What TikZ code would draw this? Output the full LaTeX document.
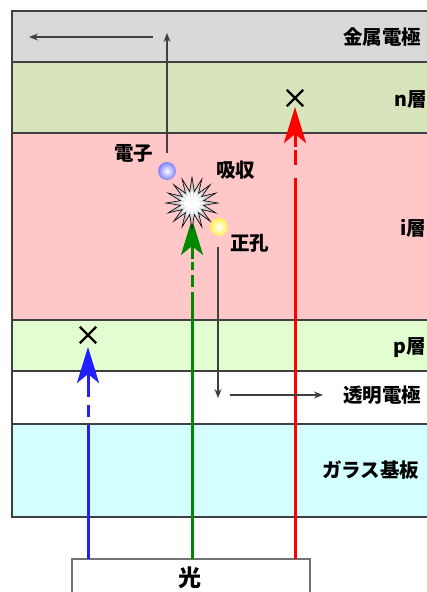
\documentclass[tikz,border=0pt]{standalone}
\usepackage{fontspec}
\setmainfont{Noto Sans CJK JP}
\usetikzlibrary{arrows.meta,shapes.misc,shapes.geometric}
\definecolor{metalc}{HTML}{D9D9D9}
\definecolor{nc}{HTML}{D8E4BC}
\definecolor{ic}{HTML}{FFC7C7}
\definecolor{pc}{HTML}{E2FDD0}
\definecolor{glassc}{HTML}{D3FFFF}
\definecolor{edgec}{HTML}{404040}
\definecolor{rayblue}{HTML}{2020FF}
\definecolor{raygreen}{HTML}{008800}
\definecolor{rayred}{HTML}{FF0000}
\definecolor{elc}{HTML}{8080FF}
\definecolor{hoc}{HTML}{FFEE55}
\begin{document}
\begin{tikzpicture}[x=1pt,y=-1pt,
  layer/.style={draw=edgec,line width=1.5pt},
  lbl/.style={font=\fontsize{19.5}{19.5}\selectfont\bfseries,anchor=west,inner sep=0pt},
  thin arrow/.style={draw=edgec,line width=1.2pt,-{Stealth[length=9pt,width=7pt]}},
  ray/.style={line width=3pt},
  rayhead/.style={line width=3pt,-{Stealth[length=36pt,width=22pt,inset=9pt]}},
  xmark/.style={cross out,draw=black,line width=2.4pt,minimum size=14pt,inner sep=0pt},
]
\useasboundingbox (0,0) rectangle (427,592);
\fill[white] (0,0) rectangle (427,592);
% layers
\draw[layer,fill=metalc] (12,11) rectangle (445,62);
\draw[layer,fill=nc] (12,62) rectangle (445,133);
\draw[layer,fill=ic] (12,133) rectangle (445,320);
\draw[layer,fill=pc] (12,320) rectangle (445,371);
\draw[layer,fill=white] (12,371) rectangle (445,424);
\draw[layer,fill=glassc] (12,424) rectangle (445,517);
% labels
\node[lbl] (lmetal) at (343,37) {金属電極};
\node[lbl] (ln) at (394,99) {n層};
\node[lbl] (li) at (400,228) {i層};
\node[lbl] (lp) at (393,348) {p層};
\node[lbl] (ltr) at (343,395) {透明電極};
\node[lbl] (lgl) at (322,470) {ガラス基板};
% light box
\draw[draw=gray!90!black,line width=1.5pt,fill=white] (72,559) rectangle (310,600);
\node[font=\fontsize{23}{23}\selectfont\bfseries,inner sep=0pt] (light) at (190,578) {光};
% rays: blue
\coordinate (b0) at (88,559);
\coordinate (b1) at (88,425);
\draw[rayblue,ray] (b0) -- (b1);
\draw[rayblue,ray] (88,417) -- (88,405);
\draw[rayblue,ray] (88,397) -- (88,386);
\draw[rayblue,rayhead] (88,386) -- (88,347);
\node[xmark] (xb) at (88,335) {};
% green
\coordinate (g0) at (192,559);
\coordinate (g1) at (192,292);
\draw[raygreen,ray] (g0) -- (g1);
\draw[raygreen,ray] (192,287) -- (192,275);
\draw[raygreen,ray] (192,270) -- (192,262);
\draw[raygreen,rayhead] (192,259) -- (192,219);
% red
\coordinate (r0) at (295,559);
\coordinate (r1) at (295,178);
\draw[rayred,ray] (r0) -- (r1);
\draw[rayred,ray] (295,165) -- (295,150);
\draw[rayred,rayhead] (295,147) -- (295,107);
\node[xmark] (xr) at (295,98) {};
% burst
\node[star,star points=16,star point ratio=2.2,minimum size=52pt,inner sep=0pt,
      draw=black,line width=0.6pt,inner color=white,outer color=gray!70] (burst) at (192,203) {};
\node[star,star points=16,star point ratio=2.2,minimum size=28pt,inner sep=0pt,fill=white] at (192,203) {};
% carriers
\node[circle,minimum size=18pt,inner sep=0pt,inner color=white,outer color=elc] (el) at (167,171) {};
\node[circle,minimum size=18pt,inner sep=0pt,inner color=white,outer color=hoc] (ho) at (219,227) {};
% carrier paths
\coordinate (e1) at (167,153);
\coordinate (e2) at (167,33);
\draw[thin arrow] (e1) -- (e2);
\coordinate (e3) at (153,37);
\coordinate (e4) at (29,37);
\draw[thin arrow] (e3) -- (e4);
\coordinate (h1) at (218,247);
\coordinate (h2) at (218,398);
\draw[thin arrow] (h1) -- (h2);
\coordinate (h3) at (230,395);
\coordinate (h4) at (323,395);
\draw[thin arrow] (h3) -- (h4);
% small labels
\node[lbl] (lel) at (114,153) {電子};
\node[lbl] (labs) at (216,170) {吸収};
\node[lbl] (lho) at (230,243) {正孔};
\end{tikzpicture}
\end{document}
